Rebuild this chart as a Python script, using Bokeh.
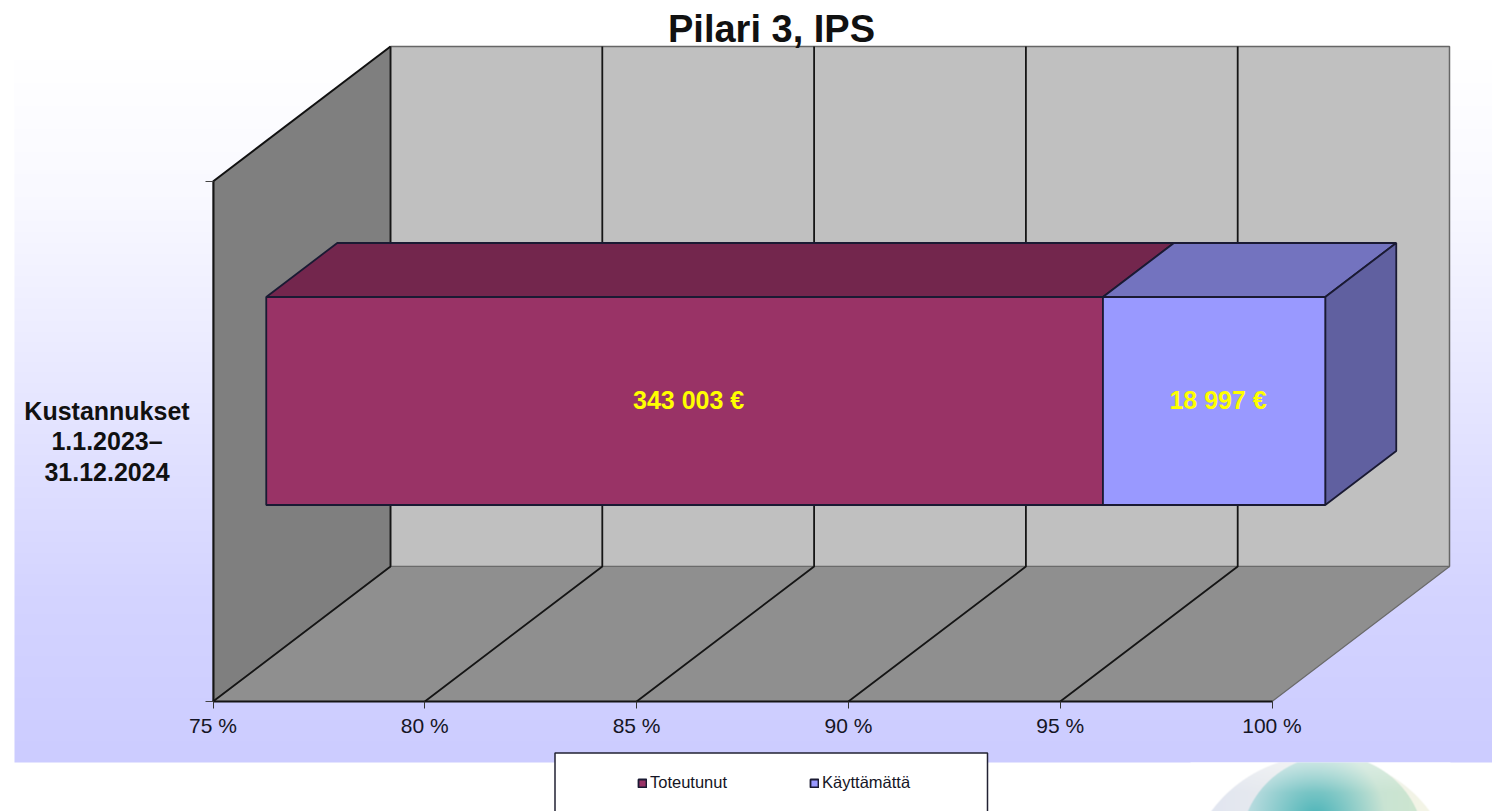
import numpy as np
from bokeh.plotting import figure
from bokeh.core.properties import value
from bokeh.embed import file_html
from bokeh.resources import INLINE
from bokeh.models import (FixedTicker, Label, Legend, LegendItem, Range1d)

# ---- data ----
title_text = "Pilari 3, IPS"
category_label = "Kustannukset\n1.1.2023–\n31.12.2024"
series_names = ["Toteutunut", "Käyttämättä"]
series_values = [343003, 18997]
series_labels = ["343 003 €", "18 997 €"]
tick_values = [75, 80, 85, 90, 95, 100]
tick_labels = ["75 %", "80 %", "85 %", "90 %", "95 %", "100 %"]
front_colors = ["#993366", "#9999FF"]
top_colors = ["#73264D", "#7373BF"]
side_colors = ["#6E2449", "#6060A0"]

# ---- page geometry ----
FONT = "Liberation Sans"
PX_PER_PCT = (1271.5 - 212.5) / 25.0
PX_PER_UNIT = 520.0
def X(px): return 75 + (px - 212.5) / PX_PER_PCT
def Y(py): return (701.0 - py) / PX_PER_UNIT
DX = 177.5 / PX_PER_PCT   # full depth in x units
DY = 135.0 / PX_PER_UNIT  # full depth in y units
def proj(x, y, d): return (x + d * DX, y + d * DY)
def face(points):
    pts = [proj(*q) for q in points]
    return [a for a, _ in pts], [b for _, b in pts]

p = figure(width=1492, height=811, x_range=Range1d(X(0), X(1492)), y_range=Range1d(Y(811), Y(0)),
           output_backend="svg", toolbar_location=None, min_border=0, outline_line_color=None,
           background_fill_color="white", border_fill_color="white")
p.grid.visible = False

def rgba_image(rgb):
    """rgb: float array (rows, cols, 3), row 0 at the bottom"""
    out = np.zeros(rgb.shape[:2], dtype=np.uint32)
    v = out.view(np.uint8).reshape(rgb.shape[:2] + (4,))
    v[..., :3] = np.clip(rgb, 0, 255).astype(np.uint8)
    v[..., 3] = 255
    return out

# ---- background band (white to lavender) ----
rows = 762
stops_y = [0, 60, 200, 330, 450, 600, 762]
stops_t = [0.0, 0.0, 0.12, 0.35, 0.58, 0.85, 1.0]
t = np.interp(np.arange(rows)[::-1] + 0.5, stops_y, stops_t)
band_rgb = np.stack([255 - t * 51, 255 - t * 51, np.full(rows, 255.0)], axis=-1)[:, None, :]
p.image_rgba(image=[rgba_image(band_rgb)], x=X(14), y=Y(762), dw=X(1492) - X(14), dh=Y(0) - Y(762))

# ---- decorative disc at lower right ----
lx, ly = np.meshgrid(np.arange(1190, 1450) + .5, np.arange(811, 762, -1) - .5)
def disc(cx, cy, r):
    return np.clip(r - np.hypot(lx - cx, ly - cy), 0, 1)[..., None]
h = np.clip((lx - 1210) / 220, 0, 1)[..., None]
outer_c = np.array([226, 230, 241]) * (1 - h) + np.array([244, 245, 230]) * h
inner_edge = np.array([186, 220, 230]) * (1 - h) + np.array([206, 230, 206]) * h
dist = np.clip(np.hypot(lx - 1315, ly - 818) / 70, 0, 1)[..., None]
inner_c = np.array([74, 180, 184]) * (1 - dist) + inner_edge * dist
fade = np.clip((ly - 762) / 30, 0, 1)[..., None] * .35 + .65
img = np.full(lx.shape + (3,), 255.0)
img = img * (1 - disc(1320, 891, 136)) + outer_c * disc(1320, 891, 136)
img = img * (1 - disc(1332, 847, 92.5)) + inner_c * disc(1332, 847, 92.5)
img = 255 - (255 - img) * fade
p.image_rgba(image=[rgba_image(img)], x=X(1190), y=Y(811), dw=X(1450) - X(1190), dh=Y(762) - Y(811))

# ---- 3D walls ----
x0, x1 = tick_values[0], tick_values[-1]
fx, fy = face([(x0, 0, 0), (x0, 1, 0), (x0, 1, 1), (x0, 0, 1)])
p.patch(fx, fy, fill_color="#7F7F7F", line_color="#555555", line_width=1)
bx, by = face([(x0, 0, 1), (x0, 1, 1), (x1, 1, 1), (x1, 0, 1)])
p.patch(bx, by, fill_color="#C0C0C0", line_color="#666666", line_width=1.5)
gx, gy = face([(x0, 0, 0), (x1, 0, 0), (x1, 0, 1), (x0, 0, 1)])
p.patch(gx, gy, fill_color="#8F8F8F", line_color="#6A6A6A", line_width=1.2)
ex, ey = face([(x0, 1, 0), (x0, 1, 1)])
p.line(ex, ey, line_color="#111111", line_width=2)
for tv in tick_values[:-1]:
    ax, ay = face([(tv, 0, 0), (tv, 0, 1), (tv, 1, 1)])
    p.line(ax, ay, line_color="#151515", line_width=1.8)

# ---- 3D stacked bar ----
total = float(sum(series_values))
edge = "#1A1A33"
y_lo, y_hi, d_lo, d_hi = 0.3, 0.7, 0.3, 0.7
ends = np.cumsum(series_values) / total * 100
starts = np.concatenate([[0], ends[:-1]])
fronts = []
for i in range(len(series_values)):
    a = max(starts[i], x0)
    b = ends[i]
    tx, ty = face([(a, y_hi, d_lo), (b, y_hi, d_lo), (b, y_hi, d_hi), (a, y_hi, d_hi)])
    p.patch(tx, ty, fill_color=top_colors[i], line_color=edge, line_width=1.8)
    if i == len(series_values) - 1:
        sx, sy = face([(b, y_lo, d_lo), (b, y_lo, d_hi), (b, y_hi, d_hi), (b, y_hi, d_lo)])
        p.patch(sx, sy, fill_color=side_colors[i], line_color=edge, line_width=1.8)
    qx, qy = face([(a, y_lo, d_lo), (b, y_hi, d_lo)])
    fronts.append(p.quad(left=[qx[0]], right=[qx[1]], bottom=[qy[0]], top=[qy[1]],
                         fill_color=front_colors[i], line_color=edge, line_width=1.8))
    cx, cy = proj((a + b) / 2, 0.5, d_lo)
    p.text([cx], [cy], text=[series_labels[i]], text_color="#FFFF00", text_font=value(FONT),
           text_font_size="25px", text_font_style="bold", text_align="center",
           text_baseline="middle", x_offset=4, y_offset=-1.5)

# ---- category label ----
p.text([X(106.5)], [Y(441)], text=[category_label], text_color="#111111", text_font=value(FONT),
       text_font_size="25px", text_font_style="bold", text_align="center",
       text_baseline="middle", text_line_height=1.09)

# ---- title ----
p.add_layout(Label(x=X(771), y=Y(28), text=title_text, text_font=FONT, text_font_size="38px",
                   text_font_style="bold", text_color="#111111", text_align="center",
                   text_baseline="alphabetic"))

# ---- axes ----
xa = p.xaxis[0]
xa.fixed_location = 0
xa.bounds = (x0, x1)
xa.ticker = FixedTicker(ticks=tick_values)
xa.major_label_overrides = dict(zip(tick_values, tick_labels))
xa.major_label_text_font = FONT
xa.major_label_text_font_size = "21px"
xa.major_label_text_color = "#151525"
xa.major_label_standoff = 5
xa.axis_line_color = "#151515"
xa.axis_line_width = 2
xa.major_tick_in = 0
xa.major_tick_out = 7
xa.major_tick_line_color = "#333333"
xa.minor_tick_line_color = None
ya = p.yaxis[0]
ya.fixed_location = x0
ya.bounds = (0, 1)
ya.ticker = FixedTicker(ticks=[0, 1])
ya.major_label_overrides = {0: "", 1: ""}
ya.axis_line_color = "#151515"
ya.axis_line_width = 2
ya.major_tick_in = 0
ya.major_tick_out = 8
ya.major_tick_line_color = "#444444"
ya.minor_tick_line_color = None

# ---- legend ----
p.quad(left=[X(554.5)], right=[X(987)], top=[Y(752.5)], bottom=[Y(830)], fill_color="white",
       line_color="#222233", line_width=1.5)
legend = Legend(items=[LegendItem(label=n, renderers=[r]) for n, r in zip(series_names, fronts)],
                orientation="horizontal", location=(637, 19), padding=0, margin=0, spacing=82,
                glyph_width=10, glyph_height=10, label_standoff=3, label_text_font=FONT,
                label_text_font_size="16.5px", label_text_color="#151525", border_line_color=None,
                background_fill_alpha=0)
p.add_layout(legend, "center")

open("out.html", "w").write(file_html(p, INLINE))
